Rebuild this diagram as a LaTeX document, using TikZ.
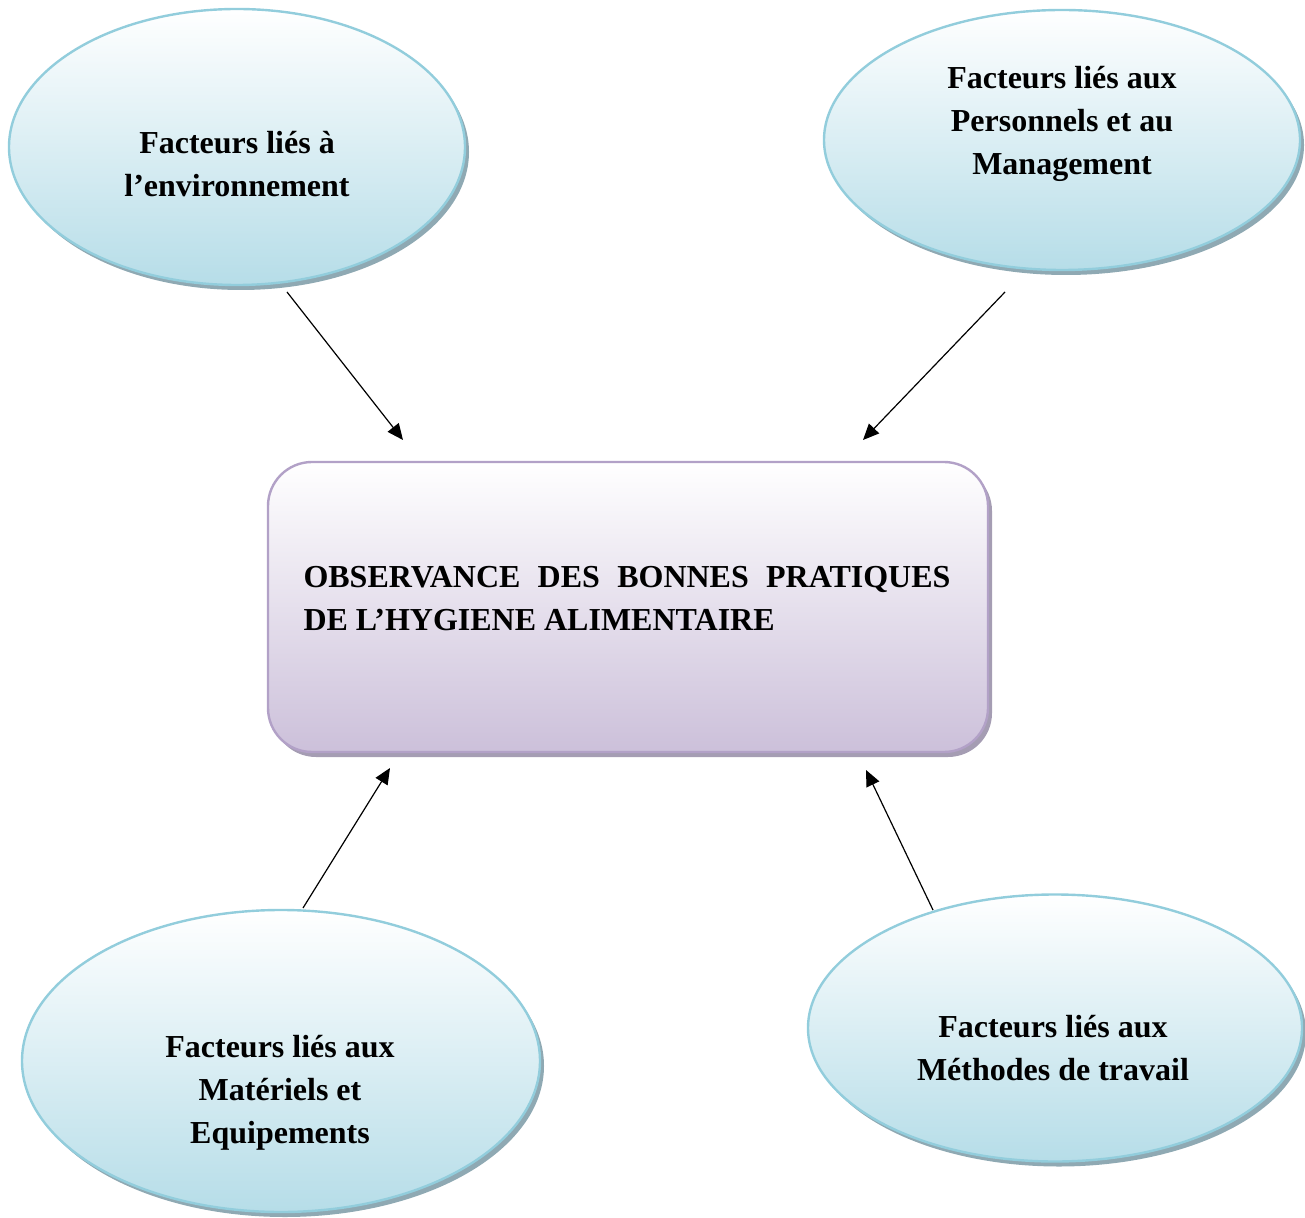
\documentclass[tikz,border=0pt]{standalone}
\usepackage{fontspec}
\setmainfont{Liberation Serif}
\usepackage{tikz}
\usetikzlibrary{shapes.geometric,shadows,arrows.meta}
\definecolor{bleuclair}{HTML}{B6DDE8}
\definecolor{bleubord}{HTML}{92CDDC}
\definecolor{bleuombre}{HTML}{8FA9B3}
\definecolor{mauve}{HTML}{CCC0DA}
\definecolor{mauvebord}{HTML}{B2A1C7}
\definecolor{mauveombre}{HTML}{A59DB3}
\begin{document}
\begin{tikzpicture}[x=0.5pt,y=-0.5pt,
facteur/.style={ellipse,draw=bleubord,line width=1.2pt,top color=white,bottom color=bleuclair,inner sep=0pt,
  drop shadow={shadow xshift=2pt,shadow yshift=-2.5pt,fill=bleuombre,opacity=1}},
obs/.style={rectangle,rounded corners=22pt,draw=mauvebord,line width=1.2pt,top color=white,bottom color=mauve,
  minimum width=360pt,minimum height=145pt,
  drop shadow={shadow xshift=2pt,shadow yshift=-2.5pt,fill=mauveombre,opacity=1}},
texte/.style={align=center,font=\fontsize{16}{21.5}\selectfont\bfseries},
fleche/.style={-{Triangle[length=8pt,width=7pt]},line width=0.6pt}]
\useasboundingbox (0,0) rectangle (1305,1218);
\node[facteur,minimum width=228pt,minimum height=138pt] (env) at (237,147) {};
\node[facteur,minimum width=238pt,minimum height=130pt] (pers) at (1062,140) {};
\node[facteur,minimum width=259pt,minimum height=151pt] (mat) at (281,1061) {};
\node[facteur,minimum width=247pt,minimum height=133.5pt] (meth) at (1055,1028) {};
\node[obs] (obs) at (628,607) {};
\node[texte] (tenv) at (237,164) {Facteurs liés à\\l’environnement};
\node[texte] (tpers) at (1062,124) {Facteurs liés aux\\Personnels et au\\Management};
\node[texte] (tmat) at (280,1093) {Facteurs liés aux\\Matériels et\\Equipements};
\node[texte] (tmeth) at (1053,1048) {Facteurs liés aux\\Méthodes de travail};
\node[texte,align=justify,text width=323.5pt] (tobs) at (627,599) {OBSERVANCE DES BONNES PRATIQUES DE L’HYGIENE ALIMENTAIRE};
\coordinate (a1) at (287,292);
\coordinate (b1) at (403,440);
\coordinate (a2) at (1005,292);
\coordinate (b2) at (863,440);
\coordinate (a3) at (303,908);
\coordinate (b3) at (390,768);
\coordinate (a4) at (933,910);
\coordinate (b4) at (866,770);
\draw[fleche] (a1) -- (b1);
\draw[fleche] (a2) -- (b2);
\draw[fleche] (a3) -- (b3);
\draw[fleche] (a4) -- (b4);
\end{tikzpicture}
\end{document}
